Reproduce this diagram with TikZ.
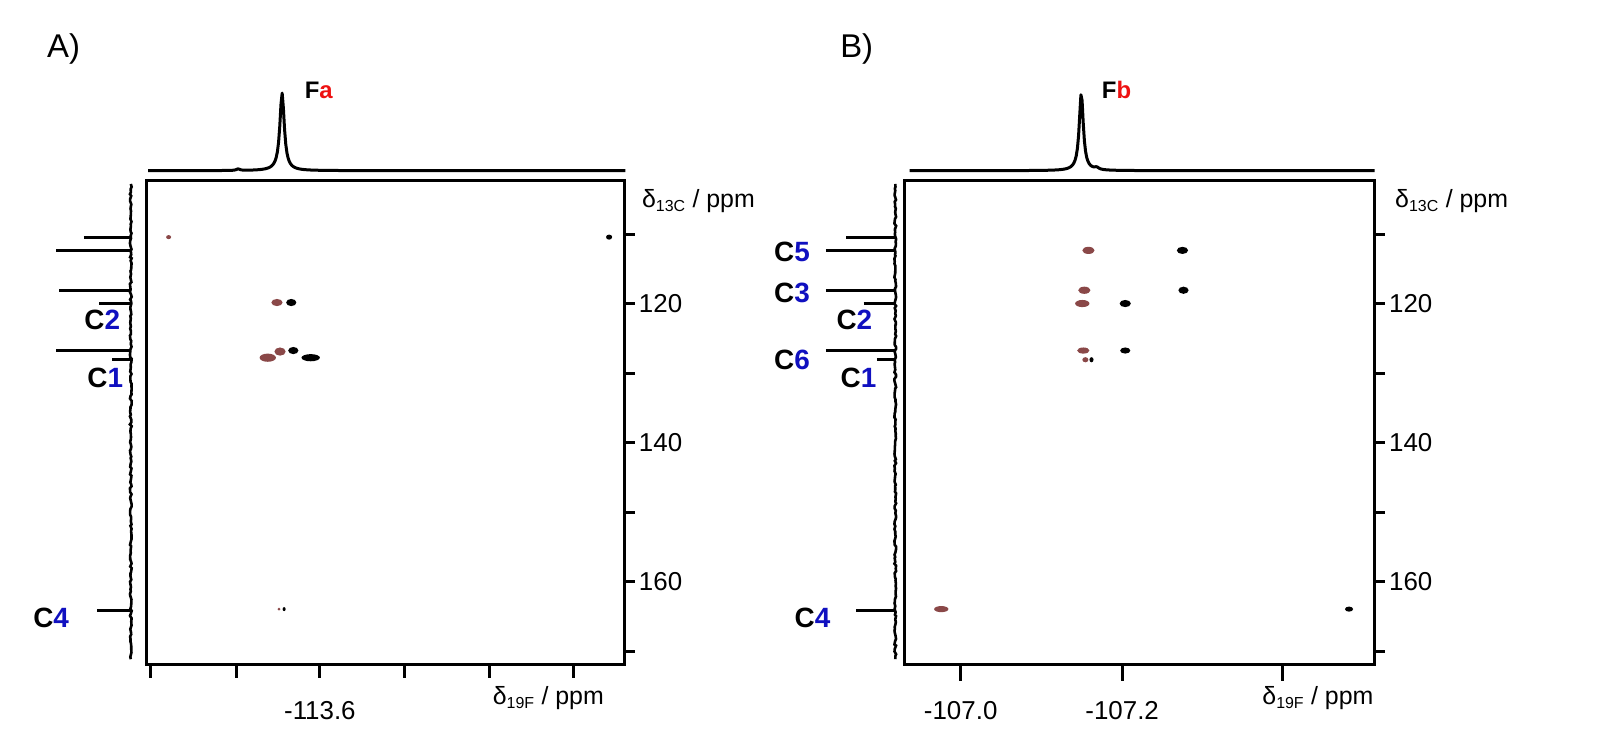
\documentclass[tikz,border=0pt]{standalone}
\usepackage{fontspec}
\setmainfont{Liberation Sans}
\usetikzlibrary{decorations.pathmorphing}
\definecolor{brn}{HTML}{8A4848}
\definecolor{cblue}{HTML}{1010C0}
\definecolor{fred}{HTML}{EE1111}
\begin{document}
\begin{tikzpicture}[x=1.022bp,y=-1.022bp,
  frame/.style={line width=3.2bp},
  spec/.style={line width=3bp,line join=round},
  wig/.style={line width=2.6bp,decorate,decoration={random steps,segment length=2.5bp,amplitude=0.9bp}},
  tick/.style={line width=3bp},
  num/.style={font=\fontsize{26}{28}\selectfont,inner sep=0pt},
  clab/.style={font=\fontsize{28}{30}\selectfont\bfseries,inner sep=0pt},
  plab/.style={font=\fontsize{33}{35}\selectfont,inner sep=0pt},
  axlab/.style={font=\fontsize{25}{27}\selectfont,inner sep=0pt},
  flab/.style={font=\fontsize{24}{26}\selectfont\bfseries,inner sep=0pt},
  bspot/.style={fill=brn,draw=none},
  kspot/.style={fill=black,draw=none},
  declare function={lor(\d,\w)=1/(1+(min(abs(\d),60)/\w)^2);}]
\useasboundingbox (0,0) rectangle (1565.56,719.18);
\newcommand{\cl}[1]{C\textcolor{cblue}{#1}}
\newcommand{\sbs}[1]{\textsubscript{\fontsize{16}{16}\selectfont #1}}
% ================= Panel A =================
\node[plab,anchor=west] (pA) at (46,48) {A)};
\draw[spec] plot[domain=145:612,samples=400] (\x,{167-76*lor(\x-276,2.6)-1.5*lor(\x-233,2)});
\node[flab,anchor=west] (Fa) at (298,88) {F\textcolor{fred}{a}};
\draw[frame] (143,177) rectangle (611,650);
\draw[wig] (128,180) -- (128,645);
\foreach \y/\l in {232/82,245/55,284/58,297/97,343/55,352/110,597/95}
  \draw[spec] (\l,\y) -- (128,\y);
\node[clab] (AC2) at (100,313) {\cl{2}};
\node[clab] (AC1) at (103,370) {\cl{1}};
\node[clab] (AC4) at (50,605) {\cl{4}};
\foreach \p in {110,120,...,170}
  \draw[tick] (611,{297+6.8*(\p-120)}) -- (621,{297+6.8*(\p-120)});
\node[num,anchor=west] (A120) at (625,297) {120};
\node[num,anchor=west] (A140) at (625,433) {140};
\node[num,anchor=west] (A160) at (625,569) {160};
\node[axlab,anchor=west] (A13) at (628,197) {δ\sbs{13C} / ppm};
\foreach \x in {147,231,313,396,479,561}
  \draw[tick] (\x,650) -- (\x,663);
\node[num] (Am) at (313,695) {-113.6};
\node[axlab,anchor=west] (A19) at (482,683) {δ\sbs{19F} / ppm};
\fill[bspot] (165,232) ellipse (2.5 and 2);
\fill[kspot] (596,232) ellipse (3 and 2.5);
\fill[bspot] (271,296) ellipse (5.5 and 3.5);
\fill[kspot] (285,296) ellipse (5 and 3.5);
\fill[bspot] (274,344) ellipse (5.5 and 4);
\fill[kspot] (287,343) ellipse (5 and 3.5);
\fill[bspot] (262,350) ellipse (8 and 4);
\fill[kspot] (304,350) ellipse (9 and 3.5);
\fill[bspot] (273,596) ellipse (1.5 and 1.5);
\fill[kspot] (278,596) ellipse (1.5 and 2);
% ================= Panel B =================
\node[plab,anchor=west] (pB) at (822,48) {B)};
\draw[spec] plot[domain=890:1345,samples=400] (\x,{167-76*lor(\x-1058,2.4)-2*lor(\x-1073,2.5)});
\node[flab,anchor=west] (Fb) at (1078,88) {F\textcolor{fred}{b}};
\draw[frame] (885,177) rectangle (1345,650);
\draw[wig] (876,180) -- (876,645);
\foreach \y/\l in {232/828,245/808,284/808,297/845,343/808,352/858,597/838}
  \draw[spec] (\l,\y) -- (876,\y);
\node[clab] (BC5) at (775,246) {\cl{5}};
\node[clab] (BC3) at (775,287) {\cl{3}};
\node[clab] (BC2) at (836,313) {\cl{2}};
\node[clab] (BC6) at (775,352) {\cl{6}};
\node[clab] (BC1) at (840,370) {\cl{1}};
\node[clab] (BC4) at (795,605) {\cl{4}};
\foreach \p in {110,120,...,170}
  \draw[tick] (1345,{297+6.8*(\p-120)}) -- (1355,{297+6.8*(\p-120)});
\node[num,anchor=west] (B120) at (1359,297) {120};
\node[num,anchor=west] (B140) at (1359,433) {140};
\node[num,anchor=west] (B160) at (1359,569) {160};
\node[axlab,anchor=west] (B13) at (1365,197) {δ\sbs{13C} / ppm};
\foreach \x in {940,1098,1255}
  \draw[tick] (\x,650) -- (\x,666);
\node[num] (Bm0) at (940,695) {-107.0};
\node[num] (Bm2) at (1098,695) {-107.2};
\node[axlab,anchor=west] (B19) at (1235,683) {δ\sbs{19F} / ppm};
\fill[bspot] (1065,245) ellipse (6 and 3.5);
\fill[kspot] (1157,245) ellipse (5.5 and 3.5);
\fill[bspot] (1061,284) ellipse (6 and 3.5);
\fill[kspot] (1158,284) ellipse (5 and 3.5);
\fill[bspot] (1059,297) ellipse (7 and 3.5);
\fill[kspot] (1101,297) ellipse (5.5 and 3.5);
\fill[bspot] (1060,343) ellipse (6 and 3);
\fill[kspot] (1101,343) ellipse (5 and 3);
\fill[bspot] (1062,352) ellipse (3 and 2.5);
\fill[kspot] (1068,352) ellipse (2 and 2.5);
\fill[bspot] (921,596) ellipse (7 and 3);
\fill[kspot] (1320,596) ellipse (4 and 2.5);
\end{tikzpicture}
\end{document}
